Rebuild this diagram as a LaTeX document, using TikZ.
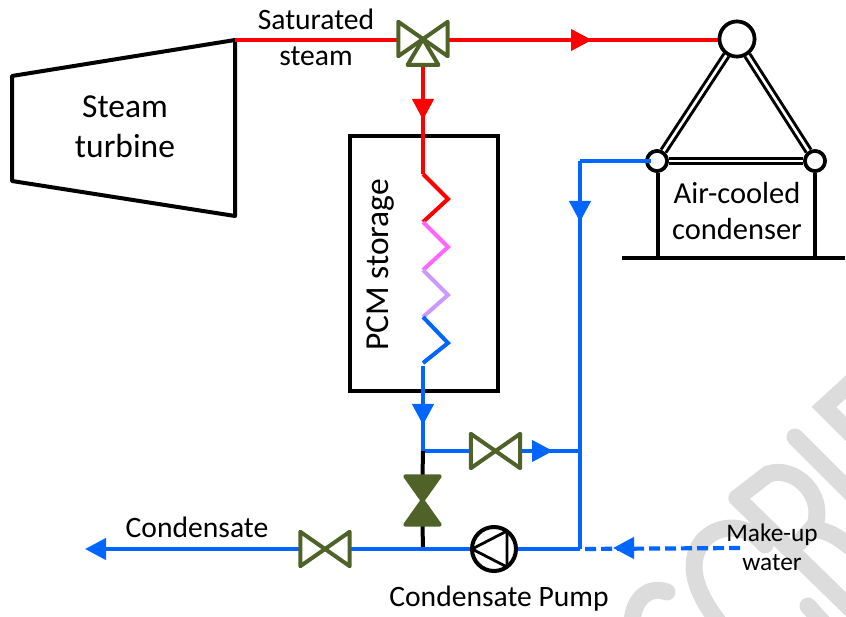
\documentclass[tikz,border=0pt]{standalone}
\usepackage{fontspec}
\setmainfont{Carlito}
\usetikzlibrary{arrows.meta}
\definecolor{pipeblue}{HTML}{0066FF}
\definecolor{pipered}{HTML}{FF0000}
\definecolor{coilpink}{HTML}{FF66FF}
\definecolor{coillilac}{HTML}{CC99FF}
\definecolor{valvegreen}{HTML}{4F6228}
\definecolor{markgray}{HTML}{DCDCDC}
\tikzset{
  redpipe/.style={draw=pipered, line width=4.2pt},
  bluepipe/.style={draw=pipeblue, line width=4.2pt},
  flowtip/.style={-{Triangle[length=21pt,width=21pt]}},
  blackline/.style={draw=black, line width=4pt},
  coilline/.style={line width=4pt},
  valvebox/.style={inner sep=0pt, minimum width=49pt, minimum height=34pt},
  valveline/.style={draw=valvegreen, line width=4pt, line join=round, fill=white},
  ring/.style={circle, draw=black, fill=white, line width=3.6pt, inner sep=0pt},
  tube/.style={draw=black, line width=3pt, double=white, double distance=2.6pt},
  bigtext/.style={font=\fontsize{33.5}{40}\selectfont, align=center, inner sep=0pt},
  midtext/.style={font=\fontsize{29.6}{36}\selectfont, align=center, inner sep=0pt},
  acctext/.style={font=\fontsize{30.5}{35.5}\selectfont, align=center, inner sep=0pt},
  smalltext/.style={font=\fontsize{25.3}{29}\selectfont, align=center, inner sep=0pt},
  marktrace/.style={draw=markgray, line width=17pt, line cap=round}
}
\begin{document}
\begin{tikzpicture}[x=1pt,y=-1pt]
\useasboundingbox (0,0) rectangle (846,617);

\begin{scope}
\clip (0,0) rectangle (846,617);
\draw [marktrace] (667,592) .. controls (648,585) and (632,600) .. (632,625);
\draw [marktrace] (725,630) .. controls (700,600) and (685,570) .. (700,545) .. controls (712,525) and (745,520) .. (765,545);
\draw [marktrace] (737,498) -- (860,618);
\draw [marktrace] (737,498) -- (768,474) .. controls (795,465) and (825,495) .. (815,525) -- (800,542);
\draw [marktrace] (815,530) .. controls (828,530) and (840,538) .. (860,555);
\draw [marktrace] (795,437) -- (860,502);
\draw [marktrace] (860,374) -- (824,407) -- (860,443);
\draw [marktrace] (808,606) -- (825,625);
\end{scope}

\coordinate (tbtl) at (12,76);
\coordinate (tbtr) at (235,40);
\coordinate (tbbr) at (235,216);
\coordinate (tbbl) at (12,181);
\draw [blackline, line join=round] (tbtl) -- (tbtr) -- (tbbr) -- (tbbl) -- cycle;
\node [bigtext] (steamtext) at (125,127) {Steam\\turbine};

\node [inner sep=0pt, draw=black, line width=3.6pt, minimum width=148pt, minimum height=255pt] (pcm) at (424,263.5) {};
\node [bigtext, rotate=90] (pcmtext) at (381,265) {PCM storage};

\node [valvebox] (steamvalve) at (423,39) {};
\node [valvebox] (bypassvalve) at (495.5,451) {};
\node [valvebox] (outvalve) at (325,549) {};
\node [valvebox, minimum width=34pt, minimum height=48pt] (stopvalve) at (422.5,500.5) {};
\node [ring, minimum size=35pt] (topring) at (737,39) {};
\node [ring, minimum size=20pt] (leftring) at (657,161) {};
\node [ring, minimum size=20pt] (rightring) at (815,161) {};
\node [circle, inner sep=0pt, minimum size=44pt] (pump) at (494,549) {};

\coordinate (steamtee) at ([yshift=-26pt]steamvalve.center);
\coordinate (steamdrop) at (423,120);
\coordinate (steamtip) at (592,40);
\coordinate (coiltop) at (423,174);
\coordinate (coilend) at (423,363);
\coordinate (coilblue) at (423,366);
\coordinate (storetip) at (423,425);
\coordinate (branch) at (423,451);
\coordinate (bypasstip) at (553,451);
\coordinate (riser) at (580,451);
\coordinate (risertip) at (580,222);
\coordinate (risertop) at (580,161);
\coordinate (mainjoin) at (423,549);
\coordinate (pumpjoin) at (580,549);
\coordinate (outtip) at (85,549);
\coordinate (makestart) at (740,548);
\coordinate (maketip) at (613,548);

\draw [redpipe] (tbtr) -- (steamvalve.west |- tbtr);
\draw [redpipe] (steamvalve.east |- steamtip) -- (topring.west |- steamtip);
\draw [redpipe, flowtip] ([xshift=-21pt]steamtip) -- (steamtip);
\draw [redpipe] (steamtee) -- (coiltop);
\draw [redpipe, flowtip] ([yshift=21pt]steamdrop) -- (steamdrop);

\draw [pipered, coilline] (coiltop) -- ([xshift=25pt,yshift=-25pt]coiltop) -- ([yshift=-48pt]coiltop);
\draw [coilpink, coilline] ([yshift=-48pt]coiltop) -- ([xshift=25pt,yshift=-73pt]coiltop) -- ([yshift=-96pt]coiltop);
\draw [coillilac, coilline] ([yshift=-96pt]coiltop) -- ([xshift=25pt,yshift=-121pt]coiltop) -- ([yshift=-143pt]coiltop);
\draw [pipeblue, coilline] ([yshift=-143pt]coiltop) -- ([xshift=25pt,yshift=-169pt]coiltop) -- (coilend);

\draw [bluepipe] (coilblue) -- (branch);
\draw [bluepipe, flowtip] ([yshift=21pt]storetip) -- (storetip);
\draw [bluepipe] (branch) -- (bypassvalve.west);
\draw [bluepipe] (bypassvalve.east) -- (riser);
\draw [bluepipe, flowtip] ([xshift=-21pt]bypasstip) -- (bypasstip);
\draw [blackline] (branch) -- (stopvalve.north);
\draw [blackline] (stopvalve.south) -- (mainjoin);

\draw [bluepipe, flowtip] (outvalve.west) -- (outtip);
\draw [bluepipe] (pump.west) -- (outvalve.east);
\draw [bluepipe] (pumpjoin) -- (pump.east);
\draw [bluepipe] (pumpjoin) -- (risertop);
\draw [bluepipe, flowtip] ([yshift=21pt]risertip) -- (risertip);
\draw [draw=pipeblue, line width=4.2pt, dash pattern=on 11pt off 5pt] (makestart) -- (pumpjoin);
\draw [bluepipe, flowtip] ([xshift=20pt]maketip) -- (maketip);

\draw [valveline] (steamvalve.north west) -- (steamvalve.south east) -- (steamvalve.north east) -- (steamvalve.south west) -- cycle;
\draw [valveline] (steamvalve.center) -- ([xshift=-15.5pt,yshift=-26pt]steamvalve.center) -- ([xshift=15.5pt,yshift=-26pt]steamvalve.center) -- cycle;
\draw [valveline] (bypassvalve.north west) -- (bypassvalve.south east) -- (bypassvalve.north east) -- (bypassvalve.south west) -- cycle;
\draw [valveline] (outvalve.north west) -- (outvalve.south east) -- (outvalve.north east) -- (outvalve.south west) -- cycle;
\draw [valveline, fill=valvegreen] (stopvalve.north west) -- (stopvalve.north east) -- (stopvalve.south west) -- (stopvalve.south east) -- cycle;

\draw [blackline, fill=white] (pump) circle (22pt);
\draw [draw=black, line width=2.8pt, line join=round] ([xshift=-22pt]pump.center) -- ([xshift=13pt,yshift=18pt]pump.center) -- ([xshift=13pt,yshift=-18pt]pump.center) -- cycle;

\draw [tube] (topring) -- (leftring);
\draw [tube] (topring) -- (rightring);
\draw [tube] (leftring) -- (rightring);
\node [ring, minimum size=35pt] (topringface) at (topring) {};
\node [ring, minimum size=20pt] (leftringface) at (leftring) {};
\node [ring, minimum size=20pt] (rightringface) at (rightring) {};
\draw [bluepipe] (risertop) -- ([xshift=-6pt]leftring.center);

\coordinate (leftfoot) at (658,258);
\coordinate (rightfoot) at (815,258);
\coordinate (baseleft) at (622,258);
\coordinate (baseright) at (845,258);
\draw [blackline] (leftring.south -| leftfoot) -- (leftfoot);
\draw [blackline] (rightring.south) -- (rightfoot);
\draw [blackline] (baseleft) -- (baseright);

\node [midtext] (satsteam) at (316,37) {Saturated\\steam};
\node [acctext] (acc) at (737,211) {Air-cooled\\condenser};
\node [midtext] (condtext) at (197,527) {Condensate};
\node [midtext] (pumptext) at (499,599) {Condensate Pump};
\node [smalltext] (maketext) at (772,547) {Make-up\\water};
\end{tikzpicture}
\end{document}
